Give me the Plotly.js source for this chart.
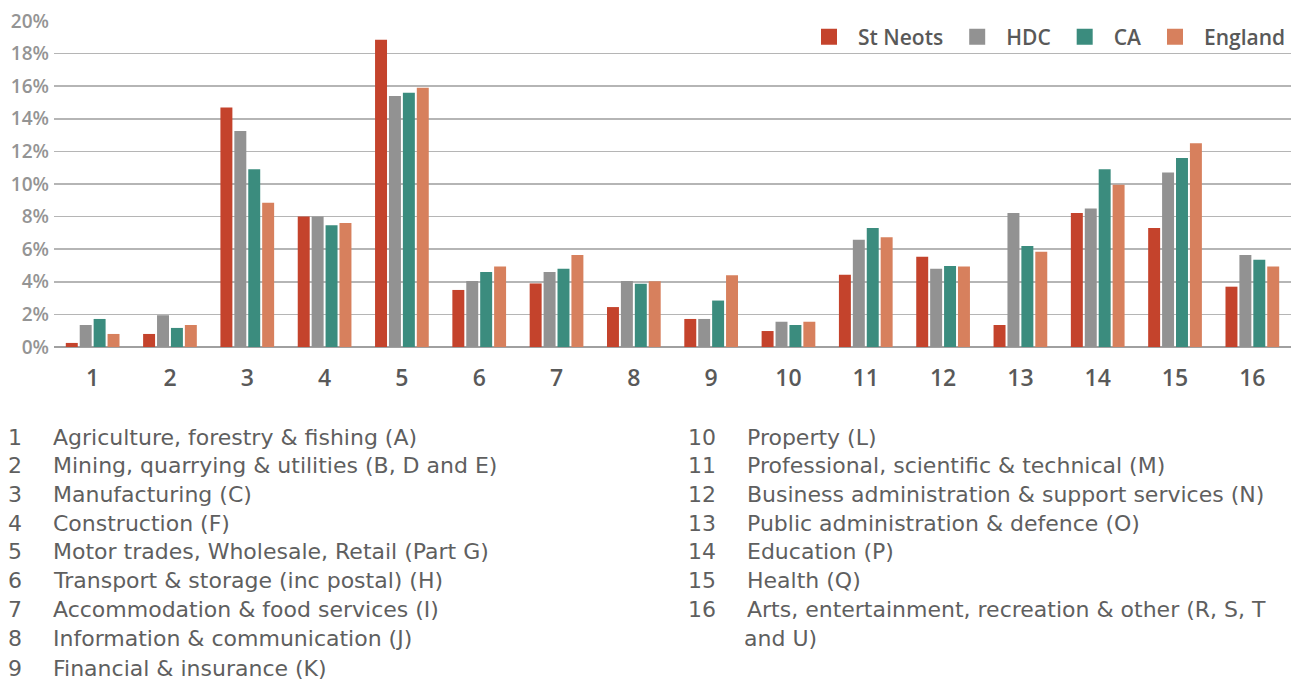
<!DOCTYPE html>
<html>
<head>
<meta charset="utf-8">
<script src="https://cdn.plot.ly/plotly-3.0.1.min.js"></script>
<style>
  html, body { margin: 0; padding: 0; background: #fff; }
  #chart { width: 1301px; height: 682px; }
</style>
</head>
<body>
<div id="chart"></div>
<script>
// ---- data ----
const categories = ["1","2","3","4","5","6","7","8","9","10","11","12","13","14","15","16"];
const seriesNames = ["St Neots", "HDC", "CA", "England"];
const stNeots = [0.25, 0.8, 14.7, 8.0, 18.85, 3.5, 3.9, 2.45, 1.72, 0.98, 4.43, 5.53, 1.35, 8.22, 7.3, 3.7];
const hdc     = [1.35, 1.95, 13.25, 8.0, 15.4, 4.05, 4.6, 4.05, 1.72, 1.55, 6.58, 4.8, 8.22, 8.5, 10.7, 5.65];
const ca      = [1.72, 1.17, 10.9, 7.47, 15.6, 4.6, 4.8, 3.88, 2.85, 1.35, 7.3, 4.97, 6.2, 10.9, 11.6, 5.35];
const england = [0.8, 1.35, 8.85, 7.6, 15.9, 4.94, 5.65, 4.04, 4.4, 1.55, 6.74, 4.94, 5.84, 9.95, 12.5, 4.94];
const yTicks = [0, 2, 4, 6, 8, 10, 12, 14, 16, 18, 20];
const keyNumbers = ["1","2","3","4","5","6","7","8","9","10","11","12","13","14","15","16"];
const keyLabels = [
  "Agriculture, forestry & fishing (A)",
  "Mining, quarrying & utilities (B, D and E)",
  "Manufacturing (C)",
  "Construction (F)",
  "Motor trades, Wholesale, Retail (Part G)",
  "Transport & storage (inc postal) (H)",
  "Accommodation & food services (I)",
  "Information & communication (J)",
  "Financial & insurance (K)",
  "Property (L)",
  "Professional, scientific & technical (M)",
  "Business administration & support services (N)",
  "Public administration & defence (O)",
  "Education (P)",
  "Health (Q)",
  "Arts, entertainment, recreation & other (R, S, T"
];
const keyContinuation = "and U)";

// ---- styling ----
const colors = ["#C4432C", "#929292", "#3B8C7E", "#D7805D"];
const seriesValues = [stNeots, hdc, ca, england];
const FONT = "'Open Sans', 'Noto Sans', sans-serif";
const KEY_FONT = "'DejaVu Sans', 'Open Sans', sans-serif";

const W = 1301, H = 682;
const M = { l: 54, r: 10, t: 21, b: 335 };
const plotW = W - M.l - M.r, plotH = H - M.t - M.b;
const px2x = px => (px - M.l) / plotW;
const py2y = py => (H - M.b - py) / plotH;

const traces = [];
seriesValues.forEach((vals, i) => {
  traces.push({
    type: "bar",
    x: categories,
    y: vals,
    name: seriesNames[i],
    marker: { color: colors[i] },
    showlegend: false,
    hoverinfo: "x+y+name"
  });
});
// legend-only entries with larger square swatches
seriesNames.forEach((n, i) => {
  traces.push({
    type: "scatter",
    mode: "markers",
    x: [null], y: [null],
    name: n,
    marker: { symbol: "square", size: 17, color: colors[i] },
    showlegend: true,
    hoverinfo: "skip"
  });
});

// key list below the chart (row positions = text centres, px)
const rowY = [437, 466, 494, 523, 551, 580, 609, 638, 668];
const txtFont = { family: KEY_FONT, size: 22, color: "#5f5f5f" };
const annotations = [];
function keyText(px, py, text) {
  annotations.push({
    xref: "paper", yref: "paper",
    x: px2x(px), y: py2y(py),
    xanchor: "left", yanchor: "middle",
    text: text, showarrow: false, font: txtFont
  });
}
for (let i = 0; i < 9; i++) {
  keyText(6, rowY[i], keyNumbers[i]);
  keyText(51, rowY[i], keyLabels[i]);
}
for (let i = 9; i < 16; i++) {
  keyText(686, rowY[i - 9], keyNumbers[i]);
  keyText(745, rowY[i - 9], keyLabels[i]);
}
keyText(742, rowY[7], keyContinuation);

const layout = {
  width: W, height: H,
  margin: M,
  paper_bgcolor: "#ffffff",
  plot_bgcolor: "#ffffff",
  barmode: "group",
  bargap: 0.28,
  bargroupgap: 0.14,
  font: { family: FONT, color: "#595959" },
  xaxis: {
    type: "category",
    showgrid: false,
    showline: false,
    zeroline: false,
    ticks: "",
    ticklabelstandoff: 15,
    tickfont: { family: FONT, size: 23, color: "#595959", weight: 600 },
    fixedrange: true
  },
  yaxis: {
    range: [0, 20],
    tickvals: yTicks,
    ticktext: yTicks.map(v => v + "%"),
    showgrid: true,
    gridcolor: "#B5B5B5",
    gridwidth: 1.5,
    zeroline: true,
    zerolinecolor: "#A0A0A0",
    zerolinewidth: 2,
    showline: false,
    ticks: "",
    ticklabelstandoff: 4,
    tickfont: { family: FONT, size: 19, color: "#949494", weight: 600 },
    fixedrange: true
  },
  showlegend: true,
  legend: {
    orientation: "h",
    x: 1, xanchor: "right",
    y: py2y(37), yanchor: "middle",
    font: { family: FONT, size: 21, color: "#595959", weight: 600 },
    bgcolor: "rgba(255,255,255,0)",
    itemwidth: 48,
    tracegroupgap: 0
  },
  annotations: annotations
};

Plotly.newPlot("chart", traces, layout, { displayModeBar: false, staticPlot: true });
</script>
</body>
</html>
